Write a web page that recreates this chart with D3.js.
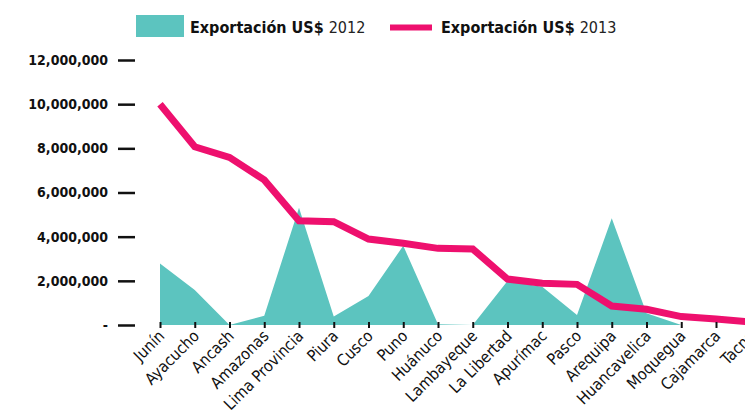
<!DOCTYPE html>
<html>
<head>
<meta charset="utf-8">
<script src="https://cdn.jsdelivr.net/npm/d3@7"></script>
<style>
  html, body { margin: 0; padding: 0; background: #fff; overflow: hidden; }
  svg { display: block; font-family: "DejaVu Sans Condensed", "DejaVu Sans", sans-serif; }
</style>
</head>
<body>
<div id="chart"></div>
<script>
// regions, in the order of the chart
const regions = ["Junín", "Ayacucho", "Ancash", "Amazonas", "Lima Provincia", "Piura", "Cusco",
  "Puno", "Huánuco", "Lambayeque", "La Libertad", "Apurímac", "Pasco", "Arequipa",
  "Huancavelica", "Moquegua", "Cajamarca", "Tacna"];

// exports US$ 2012 (area) and 2013 (line)
const export2012 = [2790000, 1580000, 0, 420000, 5310000, 380000, 1310000,
  3590000, 30000, 0, 1990000, 1730000, 450000, 4830000,
  530000, 0, 0, 0];
const export2013 = [10000000, 8070000, 7590000, 6570000, 4720000, 4680000, 3890000,
  3700000, 3470000, 3440000, 2080000, 1890000, 1840000, 860000,
  710000, 380000, 270000, 140000];

const yTicks = [0, 2000000, 4000000, 6000000, 8000000, 10000000, 12000000];
const legendLabels = ["2012", "2013"];

const WIDTH = 745;
const HEIGHT = 419;
const TEAL = "#5cc4bf";
const PINK = "#ee106e";
const FONT = "'DejaVu Sans Condensed', 'DejaVu Sans', sans-serif";

const svg = d3.select("#chart")
  .append("svg")
  .attr("width", WIDTH)
  .attr("height", HEIGHT);

const xScale = d3.scalePoint()
  .domain(regions)
  .range([160, 160 + 17 * 34.75]);

const yScale = d3.scaleLinear()
  .domain([0, 12000000])
  .range([325, 60]);

// area for 2012
const area = d3.area()
  .x((d, i) => xScale(regions[i]))
  .y0(yScale(0))
  .y1(d => yScale(d));

svg.append("path")
  .datum(export2012)
  .attr("fill", TEAL)
  .attr("d", area);

// line for 2013
const line = d3.line()
  .x((d, i) => xScale(regions[i]))
  .y(d => yScale(d));

svg.append("path")
  .datum(export2013)
  .attr("fill", "none")
  .attr("stroke", PINK)
  .attr("stroke-width", 7)
  .attr("stroke-linejoin", "miter")
  .attr("d", line);

// y axis: dash ticks, no domain line
const fmt = d => d === 0 ? "-" : d3.format(",")(d);
const yAxis = d3.axisLeft(yScale)
  .tickValues(yTicks)
  .tickSize(17)
  .tickPadding(10)
  .tickFormat(fmt);

const gy = svg.append("g")
  .attr("transform", "translate(135, 0)")
  .call(yAxis)
  .attr("font-family", FONT);
gy.select(".domain").remove();
gy.selectAll(".tick line").attr("stroke", "#111").attr("stroke-width", 2.5);
gy.selectAll(".tick text")
  .attr("fill", "#111")
  .attr("font-size", 14)
  .attr("font-weight", "bold");

// x axis: small ticks, rotated labels
const xAxis = d3.axisBottom(xScale)
  .tickSize(0)
  .tickPadding(0);

const gx = svg.append("g")
  .attr("transform", "translate(0, 325)")
  .call(xAxis)
  .attr("font-family", FONT);
gx.select(".domain").remove();
gx.selectAll(".tick line")
  .attr("y1", -3)
  .attr("y2", 3)
  .attr("stroke", "#111")
  .attr("stroke-width", 2);
gx.selectAll(".tick text")
  .attr("fill", "#111")
  .attr("font-size", 16)
  .attr("text-anchor", "end")
  .attr("dy", null)
  .attr("transform", "translate(5, 12) rotate(-45)");

// legend
const legend = svg.append("g");
legend.append("rect")
  .attr("x", 136).attr("y", 15)
  .attr("width", 48).attr("height", 22)
  .attr("fill", TEAL);
legend.append("line")
  .attr("x1", 390).attr("x2", 432)
  .attr("y1", 27.5).attr("y2", 27.5)
  .attr("stroke", PINK)
  .attr("stroke-width", 6);

[[190, legendLabels[0]], [441, legendLabels[1]]].forEach(([x, yr]) => {
  const t = legend.append("text")
    .attr("x", x).attr("y", 33)
    .attr("font-size", 16)
    .attr("fill", "#111");
  t.append("tspan").attr("font-weight", "bold").text("Exportación US$ ");
  t.append("tspan").attr("font-weight", "normal").attr("fill", "#222").text(yr);
});
</script>
</body>
</html>
